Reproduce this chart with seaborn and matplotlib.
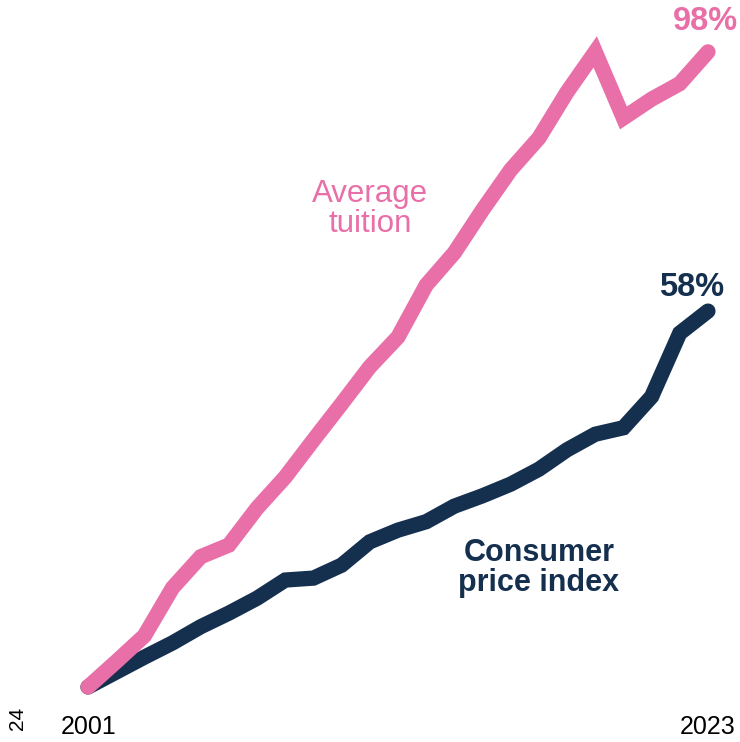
import numpy as np
import pandas as pd
import matplotlib
matplotlib.use("Agg")
import matplotlib.pyplot as plt
import seaborn as sns

years = list(range(2001, 2024))
tuition = [0, 3.9, 7.9, 15.3, 20.1, 21.9, 27.6, 32.4, 38.1, 43.7, 49.4, 54.0,
           62.0, 67.0, 73.6, 79.8, 84.7, 91.8, 98.0, 87.8, 90.7, 93.1, 98.0]
cpi = [0, 2.3, 4.6, 6.8, 9.3, 11.4, 13.7, 16.5, 16.8, 18.8, 22.4, 24.2,
       25.5, 27.9, 29.5, 31.3, 33.6, 36.6, 39.0, 40.0, 44.8, 54.6, 58.0]
series_names = ["Average tuition", "Consumer price index"]
end_labels = ["98%", "58%"]
x_labels = ["2001", "2023"]

PINK = "#E86FA8"
NAVY = "#15304F"

df = pd.DataFrame({
    "year": years * 2,
    "value": tuition + cpi,
    "series": [series_names[0]] * len(years) + [series_names[1]] * len(years),
})

sns.set_style("white")
plt.rcParams["font.family"] = ["Liberation Sans", "DejaVu Sans"]

fig = plt.figure(figsize=(7.4, 7.42), dpi=100)
ax = fig.add_axes([0, 0, 1, 1])

# draw CPI first, then tuition on top
for name, col in [(series_names[1], NAVY), (series_names[0], PINK)]:
    sub = df[df["series"] == name]
    sns.lineplot(data=sub, x="year", y="value", color=col, linewidth=11,
                 ax=ax, legend=False, solid_capstyle="round",
                 solid_joinstyle="miter")

ax.set_xlim(1997.877, 2024.137)
ax.set_ylim(-8.49, 106.0)
ax.axis("off")

def ftext(x, y, s, **kw):
    fig.text(x / 740, 1 - y / 742, s, **kw)

ftext(705, 22, end_labels[0], color=PINK, fontsize=23.5, fontweight="bold",
      ha="center", va="center")
ftext(692, 287, end_labels[1], color=NAVY, fontsize=23.5, fontweight="bold",
      ha="center", va="center")
ftext(370, 209, "Average\ntuition", color=PINK, fontsize=22.5,
      ha="center", va="center", linespacing=1.0)
ftext(539, 568, "Consumer\nprice index", color=NAVY, fontsize=22,
      fontweight="bold", ha="center", va="center", linespacing=1.0)
ftext(89, 727, x_labels[0], color="black", fontsize=18, ha="center", va="center")
ftext(708, 727, x_labels[1], color="black", fontsize=18, ha="center", va="center")
ftext(17, 718, "24", color="black", fontsize=15, rotation=90,
      ha="center", va="center")

fig.savefig("out.png", dpi=100)
